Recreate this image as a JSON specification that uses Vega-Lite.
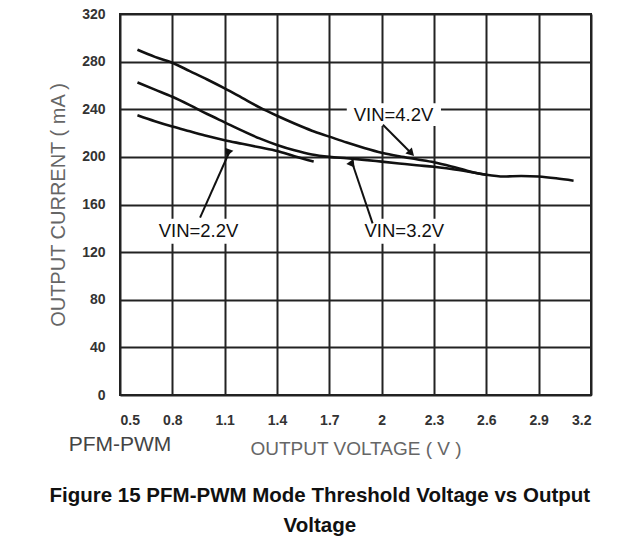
{
  "$schema": "https://vega.github.io/schema/vega-lite/v6.json",
  "autosize": "none",
  "width": 471,
  "height": 381,
  "padding": {"left": 120, "top": 14, "right": 53, "bottom": 164},
  "background": "white",
  "config": {
    "font": "Liberation Sans",
    "view": {"stroke": "#222", "strokeWidth": 2},
    "axis": {"grid": true, "gridColor": "#222", "gridWidth": 2, "gridOpacity": 1, "domain": false, "ticks": false}
  },
  "title": {
    "text": ["Figure 15 PFM-PWM Mode Threshold Voltage vs Output", "Voltage"],
    "orient": "bottom",
    "anchor": "middle",
    "frame": "bounds",
    "offset": 28,
    "fontSize": 20.5,
    "fontWeight": "bold",
    "color": "#111",
    "lineHeight": 30
  },
  "datasets": {
    "curves": [
      {"vin": "4.2V", "vout": 0.6, "iout": 290},
      {"vin": "4.2V", "vout": 0.7, "iout": 284},
      {"vin": "4.2V", "vout": 0.8, "iout": 279},
      {"vin": "4.2V", "vout": 0.9, "iout": 272},
      {"vin": "4.2V", "vout": 1.0, "iout": 265},
      {"vin": "4.2V", "vout": 1.1, "iout": 257.5},
      {"vin": "4.2V", "vout": 1.2, "iout": 249.5},
      {"vin": "4.2V", "vout": 1.3, "iout": 241.5},
      {"vin": "4.2V", "vout": 1.4, "iout": 234.5},
      {"vin": "4.2V", "vout": 1.5, "iout": 228},
      {"vin": "4.2V", "vout": 1.6, "iout": 222},
      {"vin": "4.2V", "vout": 1.7, "iout": 217},
      {"vin": "4.2V", "vout": 1.8, "iout": 212},
      {"vin": "4.2V", "vout": 1.9, "iout": 207.5},
      {"vin": "4.2V", "vout": 2.0, "iout": 203.5},
      {"vin": "4.2V", "vout": 2.1, "iout": 200.5},
      {"vin": "4.2V", "vout": 2.2, "iout": 198},
      {"vin": "4.2V", "vout": 2.3, "iout": 195.5},
      {"vin": "4.2V", "vout": 2.4, "iout": 192},
      {"vin": "4.2V", "vout": 2.5, "iout": 188},
      {"vin": "4.2V", "vout": 2.6, "iout": 185},
      {"vin": "4.2V", "vout": 2.7, "iout": 183.5},
      {"vin": "4.2V", "vout": 2.8, "iout": 184},
      {"vin": "4.2V", "vout": 2.9, "iout": 183.5},
      {"vin": "4.2V", "vout": 3.0, "iout": 182},
      {"vin": "4.2V", "vout": 3.1, "iout": 180},
      {"vin": "3.2V", "vout": 0.6, "iout": 262.5},
      {"vin": "3.2V", "vout": 0.7, "iout": 256.5},
      {"vin": "3.2V", "vout": 0.8, "iout": 250.5},
      {"vin": "3.2V", "vout": 0.9, "iout": 243.5},
      {"vin": "3.2V", "vout": 1.0, "iout": 236},
      {"vin": "3.2V", "vout": 1.1, "iout": 229},
      {"vin": "3.2V", "vout": 1.2, "iout": 222},
      {"vin": "3.2V", "vout": 1.3, "iout": 215.5},
      {"vin": "3.2V", "vout": 1.4, "iout": 210},
      {"vin": "3.2V", "vout": 1.5, "iout": 205.5},
      {"vin": "3.2V", "vout": 1.6, "iout": 202},
      {"vin": "3.2V", "vout": 1.7, "iout": 200},
      {"vin": "3.2V", "vout": 1.8, "iout": 198.8},
      {"vin": "3.2V", "vout": 1.9, "iout": 197.5},
      {"vin": "3.2V", "vout": 2.0, "iout": 196},
      {"vin": "3.2V", "vout": 2.1, "iout": 194.5},
      {"vin": "3.2V", "vout": 2.2, "iout": 193},
      {"vin": "3.2V", "vout": 2.3, "iout": 191.7},
      {"vin": "3.2V", "vout": 2.4, "iout": 189.8},
      {"vin": "3.2V", "vout": 2.5, "iout": 187.5},
      {"vin": "3.2V", "vout": 2.6, "iout": 185},
      {"vin": "2.2V", "vout": 0.6, "iout": 235},
      {"vin": "2.2V", "vout": 0.7, "iout": 230},
      {"vin": "2.2V", "vout": 0.8, "iout": 225.5},
      {"vin": "2.2V", "vout": 0.9, "iout": 221.5},
      {"vin": "2.2V", "vout": 1.0, "iout": 217.5},
      {"vin": "2.2V", "vout": 1.1, "iout": 214},
      {"vin": "2.2V", "vout": 1.2, "iout": 211},
      {"vin": "2.2V", "vout": 1.3, "iout": 208},
      {"vin": "2.2V", "vout": 1.4, "iout": 205},
      {"vin": "2.2V", "vout": 1.5, "iout": 200.5},
      {"vin": "2.2V", "vout": 1.61, "iout": 196}
    ],
    "labels": [
      {"label": "VIN=4.2V", "x": 2.068, "y": 235.5, "x1": 1.8, "x2": 2.34, "y1": 226, "y2": 245, "tailx": 2.007, "taily": 227, "headx": 2.17, "heady": 203},
      {"label": "VIN=2.2V", "x": 0.95, "y": 137.5, "x1": 0.7, "x2": 1.2, "y1": 127, "y2": 148, "tailx": 0.959, "taily": 148.9, "headx": 1.128, "heady": 204.5},
      {"label": "VIN=3.2V", "x": 2.13, "y": 137.5, "x1": 1.88, "x2": 2.38, "y1": 127, "y2": 148, "tailx": 1.948, "taily": 144.1, "headx": 1.83, "heady": 195.5}
    ],
    "notes": [
      {"text": "PFM-PWM", "x": 0.5, "y": -42}
    ]
  },
  "layer": [
    {
      "data": {"name": "curves"},
      "mark": {"type": "line", "color": "#111", "strokeWidth": 2.6, "interpolate": "monotone"},
      "encoding": {
        "x": {
          "field": "vout", "type": "quantitative",
          "scale": {"domain": [0.5, 3.2], "nice": false, "zero": false},
          "axis": {
            "values": [0.5, 0.8, 1.1, 1.4, 1.7, 2, 2.3, 2.6, 2.9, 3.2],
            "format": "~g",
            "title": "OUTPUT VOLTAGE ( V )",
            "labelFont": "Liberation Sans", "labelFontSize": 14, "labelFontWeight": "bold", "labelColor": "#333",
            "labelPadding": 18,
            "titleFont": "Liberation Sans", "titleFontSize": 19, "titleFontWeight": "normal", "titleColor": "#666",
            "titlePadding": 12
          }
        },
        "y": {
          "field": "iout", "type": "quantitative",
          "scale": {"domain": [0, 320], "nice": false},
          "axis": {
            "values": [0, 40, 80, 120, 160, 200, 240, 280, 320],
            "title": "OUTPUT CURRENT ( mA )",
            "labelFont": "Liberation Sans", "labelFontSize": 14, "labelFontWeight": "bold", "labelColor": "#333",
            "labelPadding": 15,
            "titleFont": "Liberation Sans", "titleFontSize": 20, "titleFontWeight": "normal", "titleColor": "#666",
            "titlePadding": 13
          }
        },
        "detail": {"field": "vin", "type": "nominal"},
        "order": {"field": "vout", "type": "quantitative"}
      }
    },
    {
      "data": {"name": "labels"},
      "mark": {"type": "rect", "color": "white"},
      "encoding": {
        "x": {"field": "x1", "type": "quantitative"},
        "x2": {"field": "x2"},
        "y": {"field": "y1", "type": "quantitative"},
        "y2": {"field": "y2"}
      }
    },
    {
      "data": {"name": "labels"},
      "mark": {"type": "rule", "color": "#111", "strokeWidth": 2},
      "encoding": {
        "x": {"field": "tailx", "type": "quantitative"},
        "x2": {"field": "headx"},
        "y": {"field": "taily", "type": "quantitative"},
        "y2": {"field": "heady"}
      }
    },
    {
      "data": {"name": "labels"},
      "mark": {"type": "point", "shape": "triangle-up", "filled": true, "color": "#111", "opacity": 1, "size": 80},
      "encoding": {
        "x": {"field": "headx", "type": "quantitative"},
        "y": {"field": "heady", "type": "quantitative"},
        "angle": {"field": "label", "type": "nominal", "scale": {"domain": ["VIN=4.2V", "VIN=2.2V", "VIN=3.2V"], "range": [136, 24, 341]}, "legend": null}
      }
    },
    {
      "data": {"name": "labels"},
      "mark": {"type": "text", "font": "Liberation Sans", "fontSize": 18.5, "color": "#111", "align": "center", "baseline": "middle"},
      "encoding": {
        "x": {"field": "x", "type": "quantitative"},
        "y": {"field": "y", "type": "quantitative"},
        "text": {"field": "label"}
      }
    },
    {
      "data": {"name": "notes"},
      "mark": {"type": "text", "font": "Liberation Sans", "fontSize": 21, "color": "#444", "align": "center", "baseline": "middle", "clip": false},
      "encoding": {
        "x": {"field": "x", "type": "quantitative"},
        "y": {"field": "y", "type": "quantitative"},
        "text": {"field": "text"}
      }
    }
  ]
}
